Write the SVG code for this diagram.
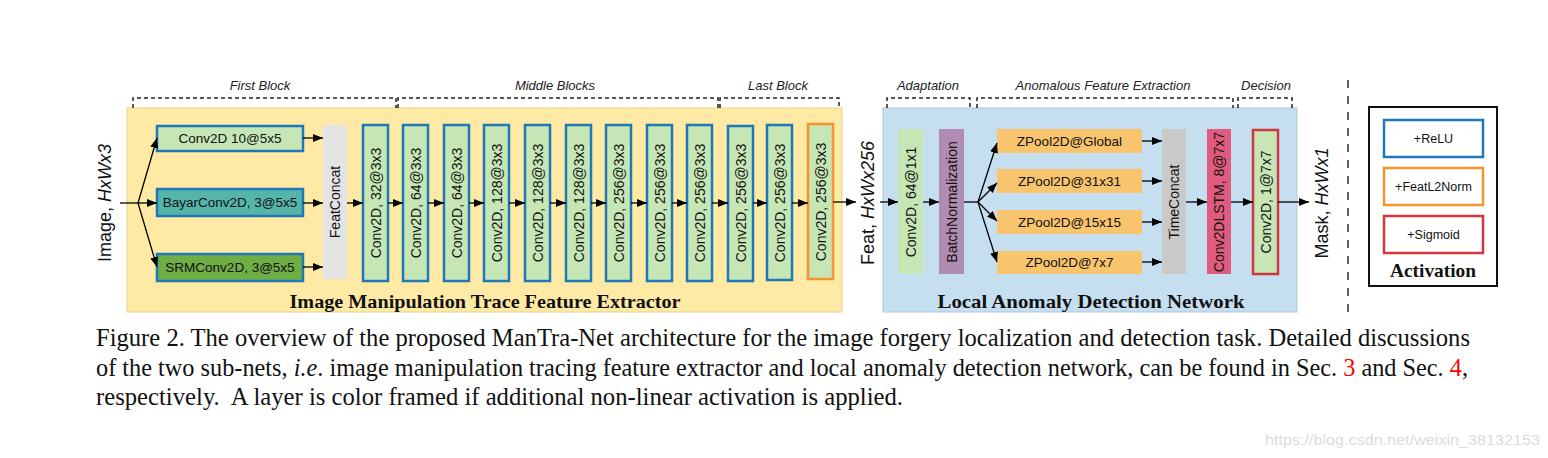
<svg xmlns="http://www.w3.org/2000/svg" width="1548" height="458" viewBox="0 0 1548 458">
<defs>
<marker id="ah" markerWidth="10" markerHeight="8" refX="10" refY="4" orient="auto" markerUnits="userSpaceOnUse"><path d="M0,0 L10,4 L0,8 z" fill="#000"/></marker>
<style>
.sans{font-family:"Liberation Sans",Arial,sans-serif;fill:#111}
.lbl{font-size:13.5px}
.vl{font-size:14px}
.top{font-size:13px;font-style:italic;fill:#222}
.big{font-size:18px}
.ttl{font-family:"Liberation Serif","Times New Roman",serif;font-weight:bold;font-size:19px;fill:#111}
.cap{font-family:"Liberation Serif","Times New Roman",serif;font-size:21.5px;fill:#111}
.red{fill:#f00}
.lg{fill:#c6e6b5}
.rl{stroke:#1f78b8;stroke-width:2.5}
.br{fill:none;stroke:#222;stroke-width:1.5;stroke-dasharray:4 3}
.ar{stroke:#000;stroke-width:1.3;fill:none;marker-end:url(#ah)}
</style>
</defs>
<rect width="1548" height="458" fill="#fff"/>
<!-- panels -->
<rect id="panel-extractor" x="127" y="108" width="715" height="204" fill="#fee9a5" stroke="#e8d28a" stroke-width="1"/>
<rect id="panel-lad" x="883" y="108" width="414" height="204" fill="#c5dff1" stroke="#afc6d8" stroke-width="1"/>
<text class="ttl" x="485" y="308" text-anchor="middle" textLength="391" lengthAdjust="spacingAndGlyphs">Image Manipulation Trace Feature Extractor</text>
<text class="ttl" x="1091" y="308" text-anchor="middle" textLength="307" lengthAdjust="spacingAndGlyphs">Local Anomaly Detection Network</text>
<!-- brackets -->
<g id="brackets">
<path class="br" d="M133,108 V98 H396 V108"/>
<path class="br" d="M398,108 V98 H718 V108"/>
<path class="br" d="M720,108 V98 H839 V108"/>
<path class="br" d="M887,108 V98 H970 V108"/>
<path class="br" d="M977,108 V98 H1233 V108"/>
<path class="br" d="M1238,108 V98 H1292 V108"/>
<text class="sans top" x="260" y="90" text-anchor="middle">First Block</text>
<text class="sans top" x="555" y="90" text-anchor="middle">Middle Blocks</text>
<text class="sans top" x="778" y="90" text-anchor="middle">Last Block</text>
<text class="sans top" x="928" y="90" text-anchor="middle">Adaptation</text>
<text class="sans top" x="1103" y="90" text-anchor="middle">Anomalous Feature Extraction</text>
<text class="sans top" x="1266" y="90" text-anchor="middle">Decision</text>
</g>
<!-- IO labels -->
<g id="input"><text class="sans big" transform="translate(111,203) rotate(-90)" text-anchor="middle">Image, <tspan font-style="italic">HxWx3</tspan></text></g>
<g id="feat"><text class="sans big" transform="translate(874,203) rotate(-90)" text-anchor="middle">Feat, <tspan font-style="italic">HxWx256</tspan></text></g>
<g id="output"><text class="sans big" transform="translate(1328,203) rotate(-90)" text-anchor="middle">Mask, <tspan font-style="italic">HxWx1</tspan></text></g>
<!-- first block -->
<g id="conv10"><rect x="157" y="126" width="146" height="25" class="lg rl"/><text class="sans lbl" x="230" y="143" text-anchor="middle">Conv2D 10@5x5</text></g>
<g id="bayar"><rect x="157" y="189" width="146" height="27" fill="#55b5a8" class="rl"/><text class="sans lbl" x="230" y="207" text-anchor="middle">BayarConv2D, 3@5x5</text></g>
<g id="srm"><rect x="157" y="254" width="146" height="27" fill="#6fad45" class="rl"/><text class="sans lbl" x="230" y="272" text-anchor="middle">SRMConv2D, 3@5x5</text></g>
<g id="featconcat"><rect x="323" y="125" width="24" height="154" fill="#e3e3e3"/><text class="sans vl" transform="translate(335,202) rotate(-90)" text-anchor="middle" dominant-baseline="central">FeatConcat</text></g>
<!-- conv columns -->
<g id="c1"><rect x="363" y="125" width="25" height="156" class="lg rl"/><text class="sans vl" transform="translate(375.5,203) rotate(-90)" text-anchor="middle" dominant-baseline="central">Conv2D, 32@3x3</text></g>
<g id="c2"><rect x="403" y="125" width="25" height="156" class="lg rl"/><text class="sans vl" transform="translate(415.5,203) rotate(-90)" text-anchor="middle" dominant-baseline="central">Conv2D, 64@3x3</text></g>
<g id="c3"><rect x="444" y="125" width="25" height="156" class="lg rl"/><text class="sans vl" transform="translate(456.5,203) rotate(-90)" text-anchor="middle" dominant-baseline="central">Conv2D, 64@3x3</text></g>
<g id="c4"><rect x="484" y="125" width="25" height="156" class="lg rl"/><text class="sans vl" transform="translate(496.5,203) rotate(-90)" text-anchor="middle" dominant-baseline="central">Conv2D, 128@3x3</text></g>
<g id="c5"><rect x="525" y="125" width="25" height="156" class="lg rl"/><text class="sans vl" transform="translate(537.5,203) rotate(-90)" text-anchor="middle" dominant-baseline="central">Conv2D, 128@3x3</text></g>
<g id="c6"><rect x="566" y="125" width="25" height="156" class="lg rl"/><text class="sans vl" transform="translate(578.5,203) rotate(-90)" text-anchor="middle" dominant-baseline="central">Conv2D, 128@3x3</text></g>
<g id="c7"><rect x="606" y="125" width="25" height="156" class="lg rl"/><text class="sans vl" transform="translate(618.5,203) rotate(-90)" text-anchor="middle" dominant-baseline="central">Conv2D, 256@3x3</text></g>
<g id="c8"><rect x="647" y="125" width="25" height="156" class="lg rl"/><text class="sans vl" transform="translate(659.5,203) rotate(-90)" text-anchor="middle" dominant-baseline="central">Conv2D, 256@3x3</text></g>
<g id="c9"><rect x="687" y="125" width="25" height="156" class="lg rl"/><text class="sans vl" transform="translate(699.5,203) rotate(-90)" text-anchor="middle" dominant-baseline="central">Conv2D, 256@3x3</text></g>
<g id="c10"><rect x="728" y="126" width="25" height="155" class="lg rl"/><text class="sans vl" transform="translate(740.5,203) rotate(-90)" text-anchor="middle" dominant-baseline="central">Conv2D, 256@3x3</text></g>
<g id="c11"><rect x="767" y="125" width="25" height="155" class="lg rl"/><text class="sans vl" transform="translate(779.5,203) rotate(-90)" text-anchor="middle" dominant-baseline="central">Conv2D, 256@3x3</text></g>
<g id="c12"><rect x="808" y="124" width="25" height="155" class="lg" stroke="#f2952c" stroke-width="2.5"/><text class="sans vl" transform="translate(820.5,202) rotate(-90)" text-anchor="middle" dominant-baseline="central">Conv2D, 256@3x3</text></g>
<!-- LAD -->
<g id="conv64"><rect x="898" y="129" width="25" height="145" class="lg"/><text class="sans vl" transform="translate(910.5,202) rotate(-90)" text-anchor="middle" dominant-baseline="central">Conv2D, 64@1x1</text></g>
<g id="bn"><rect x="939" y="129" width="25" height="145" fill="#b18cb2"/><text class="sans vl" transform="translate(951.5,202) rotate(-90)" text-anchor="middle" dominant-baseline="central">BatchNormalization</text></g>
<g id="zg"><rect x="997" y="129" width="145" height="24" fill="#f8c46d"/><text class="sans lbl" x="1069.5" y="146" text-anchor="middle">ZPool2D@Global</text></g>
<g id="z31"><rect x="997" y="169" width="145" height="24" fill="#f8c46d"/><text class="sans lbl" x="1069.5" y="186" text-anchor="middle">ZPool2D@31x31</text></g>
<g id="z15"><rect x="997" y="210" width="145" height="24" fill="#f8c46d"/><text class="sans lbl" x="1069.5" y="227" text-anchor="middle">ZPool2D@15x15</text></g>
<g id="z7"><rect x="997" y="251" width="145" height="23" fill="#f8c46d"/><text class="sans lbl" x="1069.5" y="267" text-anchor="middle">ZPool2D@7x7</text></g>
<g id="timeconcat"><rect x="1162" y="129" width="24" height="145" fill="#c9c9c9"/><text class="sans vl" transform="translate(1174,202) rotate(-90)" text-anchor="middle" dominant-baseline="central">TimeConcat</text></g>
<g id="lstm"><rect x="1207" y="129" width="24" height="145" fill="#e05b80"/><text class="sans vl" transform="translate(1219,202) rotate(-90)" text-anchor="middle" dominant-baseline="central">Conv2DLSTM, 8@7x7</text></g>
<g id="conv1"><rect x="1253" y="130" width="25" height="144" class="lg" stroke="#d0383f" stroke-width="2.5"/><text class="sans vl" transform="translate(1265.5,202) rotate(-90)" text-anchor="middle" dominant-baseline="central">Conv2D, 1@7x7</text></g>
<!-- connectors -->
<g id="connectors">
<path d="M120,203 H138" stroke="#000" stroke-width="1.3"/>
<path class="ar" d="M138,203 L157,138"/>
<path class="ar" d="M138,203 H157"/>
<path class="ar" d="M138,203 L157,267"/>
<path class="ar" d="M303,138 H323"/>
<path class="ar" d="M303,203 H323"/>
<path class="ar" d="M303,267 H323"/>
<path class="ar" d="M347,203 H363"/>
<path class="ar" d="M388,203 H403"/>
<path class="ar" d="M428,203 H444"/>
<path class="ar" d="M469,203 H484"/>
<path class="ar" d="M509,203 H525"/>
<path class="ar" d="M550,203 H566"/>
<path class="ar" d="M591,203 H606"/>
<path class="ar" d="M631,203 H647"/>
<path class="ar" d="M672,203 H687"/>
<path class="ar" d="M712,203 H728"/>
<path class="ar" d="M753,203 H767"/>
<path class="ar" d="M792,203 H808"/>
<path class="ar" d="M833,202 H856"/>
<path class="ar" d="M880,202 H898"/>
<path class="ar" d="M923,202 H939"/>
<path d="M964,202 H978" stroke="#000" stroke-width="1.3"/>
<path class="ar" d="M978,202 L997,143"/>
<path class="ar" d="M978,202 L997,183"/>
<path class="ar" d="M978,202 L997,221"/>
<path class="ar" d="M978,202 L997,262"/>
<path class="ar" d="M1142,141 H1162"/>
<path class="ar" d="M1142,181 H1162"/>
<path class="ar" d="M1142,222 H1162"/>
<path class="ar" d="M1142,262 H1162"/>
<path class="ar" d="M1186,202 H1207"/>
<path class="ar" d="M1231,202 H1253"/>
<path class="ar" d="M1278,202 H1309"/>
</g>
<!-- separator -->
<path d="M1348,80 V315" stroke="#111" stroke-width="1.3" stroke-dasharray="8 8"/>
<!-- legend -->
<g id="legend">
<rect x="1369" y="107" width="128" height="179" fill="#fff" stroke="#111" stroke-width="2"/>
<g id="lg-relu"><rect x="1384" y="120" width="99" height="37" fill="#fff" stroke="#1f78b8" stroke-width="2.5"/><text class="sans" font-size="12.5" x="1433.5" y="143" text-anchor="middle">+ReLU</text></g>
<g id="lg-l2"><rect x="1384" y="168" width="99" height="37" fill="#fff" stroke="#f2952c" stroke-width="2.5"/><text class="sans" font-size="12.5" x="1433.5" y="191" text-anchor="middle">+FeatL2Norm</text></g>
<g id="lg-sig"><rect x="1384" y="216" width="99" height="37" fill="#fff" stroke="#d0383f" stroke-width="2.5"/><text class="sans" font-size="12.5" x="1433.5" y="239" text-anchor="middle">+Sigmoid</text></g>
<text class="ttl" x="1433" y="277" text-anchor="middle" textLength="86" lengthAdjust="spacingAndGlyphs">Activation</text>
</g>
<!-- caption -->
<g id="caption">
<text class="cap" transform="translate(96,346) scale(1,1.18)" x="0" y="0" textLength="1374" lengthAdjust="spacingAndGlyphs">Figure 2. The overview of the proposed ManTra-Net architecture for the image forgery localization and detection task. Detailed discussions</text>
<text class="cap" transform="translate(96,375.5) scale(1,1.18)" x="0" y="0" textLength="1372" lengthAdjust="spacingAndGlyphs">of the two sub-nets, <tspan font-style="italic">i.e</tspan>. image manipulation tracing feature extractor and local anomaly detection network, can be found in Sec. <tspan class="red">3</tspan> and Sec. <tspan class="red">4</tspan>,</text>
<text class="cap" transform="translate(96,404.5) scale(1,1.18)" x="0" y="0" textLength="807" lengthAdjust="spacingAndGlyphs" xml:space="preserve">respectively.  A layer is color framed if additional non-linear activation is applied.</text>
</g>
<text class="sans" font-size="14" x="1265" y="445" style="fill:#dcdcdc" textLength="275" lengthAdjust="spacingAndGlyphs">https://blog.csdn.net/weixin_38132153</text>
</svg>
